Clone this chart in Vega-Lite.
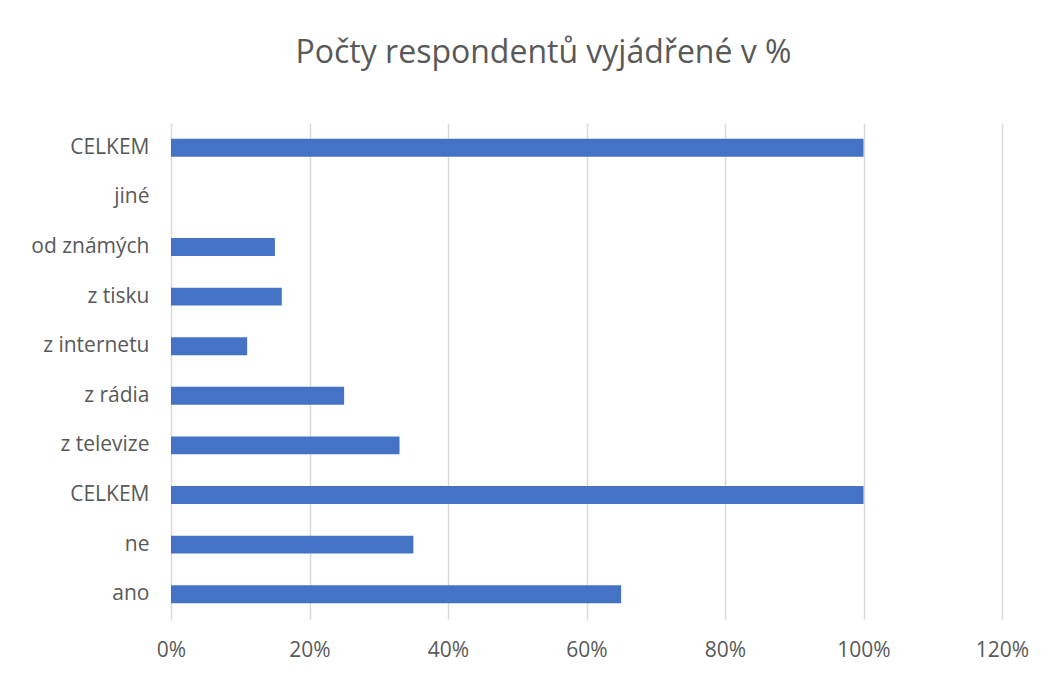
{
  "$schema": "https://vega.github.io/schema/vega-lite/v6.json",
  "width": 831,
  "height": 496,
  "autosize": {"type": "none"},
  "padding": {"left": 171, "top": 123, "right": 61, "bottom": 69},
  "background": "white",
  "title": {
    "text": "Počty respondentů vyjádřené v %",
    "font": "Open Sans",
    "fontSize": 32,
    "fontWeight": "normal",
    "color": "#595959",
    "anchor": "middle",
    "baseline": "alphabetic",
    "offset": 28,
    "dx": -43
  },
  "data": {
    "values": [
      {"kategorie": "CELKEM_b", "podil": 1.0},
      {"kategorie": "jiné", "podil": 0.0},
      {"kategorie": "od známých", "podil": 0.15},
      {"kategorie": "z tisku", "podil": 0.16},
      {"kategorie": "z internetu", "podil": 0.11},
      {"kategorie": "z rádia", "podil": 0.25},
      {"kategorie": "z televize", "podil": 0.33},
      {"kategorie": "CELKEM_a", "podil": 1.0},
      {"kategorie": "ne", "podil": 0.35},
      {"kategorie": "ano", "podil": 0.65}
    ]
  },
  "mark": {"type": "bar", "color": "#4472C4"},
  "encoding": {
    "y": {
      "field": "kategorie",
      "type": "nominal",
      "sort": null,
      "scale": {"paddingInner": 0.64, "paddingOuter": 0.32},
      "axis": {
        "title": null,
        "ticks": false,
        "domain": false,
        "labelPadding": 22,
        "labelFont": "Open Sans",
        "labelFontSize": 21,
        "labelColor": "#595959",
        "labelExpr": "indexof(datum.value, 'CELKEM') >= 0 ? 'CELKEM' : datum.value"
      }
    },
    "x": {
      "field": "podil",
      "type": "quantitative",
      "scale": {"domain": [0, 1.2], "nice": false},
      "axis": {
        "title": null,
        "format": ".0%",
        "values": [0, 0.2, 0.4, 0.6, 0.8, 1.0, 1.2],
        "ticks": false,
        "domain": false,
        "grid": true,
        "gridColor": "#d9d9d9",
        "gridWidth": 1.5,
        "labelFlush": false,
        "labelPadding": 20,
        "labelFont": "Open Sans",
        "labelFontSize": 21,
        "labelColor": "#595959"
      }
    }
  },
  "config": {
    "view": {"stroke": null}
  }
}
